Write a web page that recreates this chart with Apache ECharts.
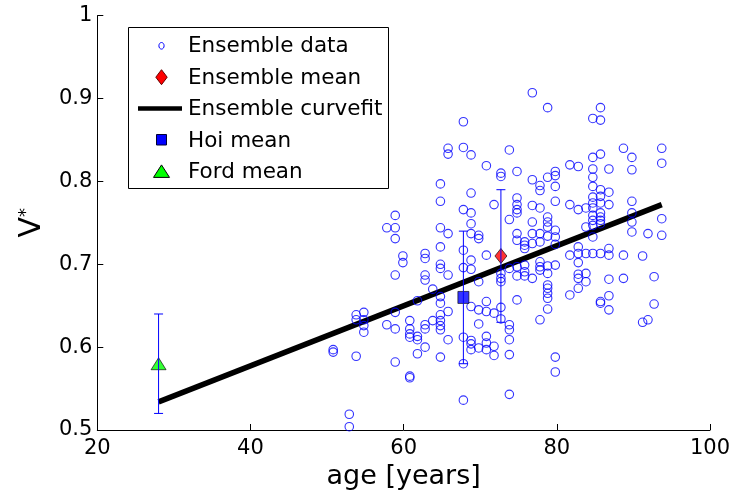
<!DOCTYPE html>
<html>
<head>
<meta charset="utf-8">
<script src="https://cdn.jsdelivr.net/npm/echarts@6/dist/echarts.min.js"></script>
<style>
  html, body { margin: 0; padding: 0; background: #fff; }
  #chart { width: 730px; height: 495px; }
</style>
</head>
<body>
<div id="chart"></div>
<script>
// Ensemble measurements, grouped by age column (years); each entry lists the V* values at that age
const ensembleAges = [50.8, 52.9, 53.8, 54.8, 57.8, 58.9, 59.9, 60.8, 61.8, 62.8, 63.8, 64.8, 65.8,
  67.8, 68.8, 69.8, 70.8, 71.8, 72.7, 73.8, 74.8, 75.8, 76.8, 77.8, 78.8, 79.8, 81.7, 82.8, 83.8,
  84.7, 85.7, 86.8, 88.7, 89.8, 91.2, 91.9, 92.7, 93.7];
const ensembleValues = [
  [0.597, 0.594],
  [0.519, 0.504],
  [0.639, 0.633, 0.589],
  [0.642, 0.633, 0.626, 0.618],
  [0.744, 0.627],
  [0.759, 0.744, 0.731, 0.687, 0.642, 0.622, 0.582],
  [0.710, 0.702],
  [0.632, 0.622, 0.616, 0.612, 0.565, 0.563],
  [0.656, 0.613, 0.609, 0.592],
  [0.713, 0.707, 0.687, 0.681, 0.627, 0.622, 0.600],
  [0.670, 0.632],
  [0.797, 0.776, 0.744, 0.721, 0.700, 0.695, 0.661, 0.653, 0.639, 0.632, 0.626, 0.621, 0.588],
  [0.840, 0.833, 0.737, 0.687, 0.643, 0.609],
  [0.872, 0.841, 0.766, 0.717, 0.696, 0.612, 0.580, 0.536],
  [0.832, 0.786, 0.762, 0.749, 0.737, 0.705, 0.694, 0.649, 0.608, 0.604, 0.597],
  [0.735, 0.731, 0.679, 0.645, 0.628, 0.599],
  [0.819, 0.711, 0.655, 0.643, 0.613, 0.605, 0.597],
  [0.772, 0.641, 0.601, 0.590],
  [0.810, 0.806, 0.689, 0.683, 0.679, 0.648, 0.634],
  [0.838, 0.754, 0.695, 0.627, 0.621, 0.609, 0.591, 0.543],
  [0.812, 0.780, 0.772, 0.766, 0.762, 0.737, 0.729, 0.697, 0.686, 0.657],
  [0.727, 0.723, 0.719, 0.699, 0.691, 0.686],
  [0.907, 0.802, 0.771, 0.751, 0.737, 0.725, 0.683],
  [0.795, 0.789, 0.768, 0.737, 0.727, 0.703, 0.697, 0.693, 0.633],
  [0.889, 0.805, 0.757, 0.751, 0.745, 0.734, 0.698, 0.689, 0.675, 0.671, 0.665, 0.659, 0.646],
  [0.812, 0.807, 0.794, 0.776, 0.741, 0.733, 0.724, 0.699, 0.588, 0.570],
  [0.820, 0.772, 0.711, 0.663],
  [0.818, 0.766, 0.721, 0.713, 0.702, 0.688, 0.683, 0.671],
  [0.768, 0.745, 0.713, 0.689, 0.679],
  [0.876, 0.829, 0.815, 0.805, 0.794, 0.781, 0.774, 0.768, 0.759, 0.753, 0.747, 0.733, 0.713],
  [0.889, 0.874, 0.833, 0.790, 0.782, 0.774, 0.762, 0.757, 0.753, 0.749, 0.713, 0.655, 0.653],
  [0.815, 0.787, 0.772, 0.719, 0.711, 0.682, 0.662, 0.645],
  [0.840, 0.711, 0.683],
  [0.829, 0.814, 0.776, 0.762, 0.751, 0.739],
  [0.710, 0.630],
  [0.737, 0.633],
  [0.685, 0.652],
  [0.840, 0.822, 0.755, 0.735]
];

// Group means with their error-bar ranges
const meanNames = ['Ensemble mean', 'Hoi mean', 'Ford mean'];
const meanAges = [72.7, 67.8, 28.0];
const meanValues = [0.71, 0.66, 0.58];
const meanLow = [0.63, 0.58, 0.52];
const meanHigh = [0.79, 0.74, 0.64];

// Linear curve fit of the ensemble (end points)
const fitAges = [28.0, 93.7];
const fitValues = [0.534, 0.772];

// Axis ranges and tick spacing
const xRange = [20, 100], xStep = 20;
const yRange = [0.5, 1.0], yStep = 0.1;

const FONT = 'DejaVu Sans';
const BLUE = '#0000ff';

const ensemblePoints = [];
ensembleAges.forEach((age, i) => {
  ensembleValues[i].forEach(v => ensemblePoints.push([age, v]));
});

const meanStyles = [
  { symbol: 'diamond', size: [12, 15], color: '#ff0000' },
  { symbol: 'rect', size: [11, 12], color: '#0000ff' },
  { symbol: 'triangle', size: [15, 12], color: '#00ff00' }
];

const errorData = meanAges.map((a, i) => [a, meanLow[i], meanHigh[i]]);

const chart = echarts.init(document.getElementById('chart'), null, { renderer: 'canvas' });

// Legend drawn as a framed box in the upper-left of the plot
const legendLeft = 128.5, legendTop = 27.5, legendW = 260, legendH = 161;
const rowY = [45.8, 77.2, 108.6, 140.0, 171.4];
const symX = 161.5, textX = 188;
const legendChildren = [
  { type: 'rect', shape: { x: legendLeft, y: legendTop, width: legendW, height: legendH },
    style: { fill: '#fff', stroke: '#000', lineWidth: 1 } },
  { type: 'ellipse', shape: { cx: symX, cy: rowY[0], rx: 2.6, ry: 3.3 },
    style: { fill: 'none', stroke: BLUE, lineWidth: 1 } },
  { type: 'polygon', shape: { points: [[symX, rowY[1] - 7.5], [symX + 5.7, rowY[1]], [symX, rowY[1] + 7.5], [symX - 5.7, rowY[1]]] },
    style: { fill: '#ff0000', stroke: '#600', lineWidth: 1 } },
  { type: 'line', shape: { x1: 138, y1: rowY[2], x2: 182, y2: rowY[2] },
    style: { stroke: '#000', lineWidth: 4.5 } },
  { type: 'rect', shape: { x: symX - 5, y: rowY[3] - 5.5, width: 10, height: 10.5 },
    style: { fill: BLUE, stroke: '#000033', lineWidth: 1 } },
  { type: 'polygon', shape: { points: [[symX, rowY[4] - 6.5], [symX + 8, rowY[4] + 6], [symX - 8, rowY[4] + 6]] },
    style: { fill: '#00ff00', stroke: '#000', lineWidth: 1 } }
];
['Ensemble data', 'Ensemble mean', 'Ensemble curvefit', 'Hoi mean', 'Ford mean'].forEach((t, i) => {
  legendChildren.push({
    type: 'text', x: textX, y: rowY[i] + 1,
    style: { text: t, fontFamily: FONT, fontSize: 21.5, fill: '#000', verticalAlign: 'middle', align: 'left' }
  });
});

chart.setOption({
  animation: false,
  backgroundColor: '#fff',
  grid: { left: 97.3, right: 20, top: 15.7, bottom: 65, containLabel: false, outerBoundsMode: 'none' },
  xAxis: {
    type: 'value', min: xRange[0], max: xRange[1], interval: xStep,
    name: 'age [years]', nameLocation: 'middle', nameGap: 33,
    nameTextStyle: { fontFamily: FONT, fontSize: 27, color: '#000' },
    axisLine: { onZero: false, lineStyle: { color: '#000', width: 1 } },
    axisTick: { inside: true, length: 6, lineStyle: { color: '#000' } },
    axisLabel: { fontFamily: FONT, fontSize: 21, color: '#000', margin: 8 },
    splitLine: { show: false }
  },
  yAxis: {
    type: 'value', min: yRange[0], max: yRange[1], interval: yStep,
    name: '{v|V}{s|*}', nameLocation: 'middle', nameRotate: 90, nameGap: 50,
    nameTextStyle: {
      color: '#000',
      rich: {
        v: { fontFamily: FONT, fontSize: 30, color: '#000' },
        s: { fontFamily: FONT, fontSize: 18, color: '#000', verticalAlign: 'top' }
      }
    },
    axisLine: { onZero: false, lineStyle: { color: '#000', width: 1 } },
    axisTick: { inside: true, length: 6, lineStyle: { color: '#000' } },
    axisLabel: { fontFamily: FONT, fontSize: 21, color: '#000', margin: 5 },
    splitLine: { show: false }
  },
  series: [
    {
      name: 'Ensemble curvefit', type: 'line', z: 2,
      data: fitAges.map((a, i) => [a, fitValues[i]]),
      symbol: 'none', lineStyle: { color: '#000', width: 5.5 },
      emphasis: { disabled: true }, silent: true
    },
    {
      name: 'Ensemble data', type: 'scatter', z: 3,
      data: ensemblePoints, symbol: 'circle', symbolSize: 8.5,
      itemStyle: { color: 'rgba(0,0,0,0)', borderColor: BLUE, borderWidth: 1.1 },
      emphasis: { disabled: true }, silent: true
    },
    ...meanNames.map((n, i) => ({
      name: n, type: 'scatter', z: 4,
      data: [[meanAges[i], meanValues[i]]],
      symbol: meanStyles[i].symbol, symbolSize: meanStyles[i].size,
      itemStyle: { color: meanStyles[i].color, borderColor: '#000', borderWidth: 0.8 },
      emphasis: { disabled: true }, silent: true
    })),
    {
      name: 'error bars', type: 'custom', z: 5, silent: true,
      data: errorData,
      renderItem: function (params, api) {
        const top = api.coord([api.value(0), api.value(2)]);
        const bot = api.coord([api.value(0), api.value(1)]);
        const w = 4.5;
        const st = { stroke: BLUE, lineWidth: 1 };
        return {
          type: 'group',
          children: [
            { type: 'line', shape: { x1: top[0], y1: top[1], x2: bot[0], y2: bot[1] }, style: st },
            { type: 'line', shape: { x1: top[0] - w, y1: top[1], x2: top[0] + w, y2: top[1] }, style: st },
            { type: 'line', shape: { x1: bot[0] - w, y1: bot[1], x2: bot[0] + w, y2: bot[1] }, style: st }
          ]
        };
      }
    }
  ],
  graphic: [{ type: 'group', z: 100, children: legendChildren }]
});
</script>
</body>
</html>
